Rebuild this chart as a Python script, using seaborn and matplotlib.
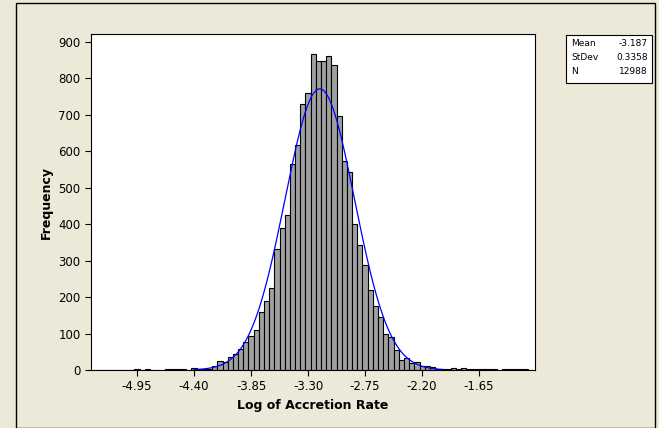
import numpy as np
import pandas as pd
import matplotlib
matplotlib.use("Agg")
import matplotlib.pyplot as plt
import seaborn as sns

# bin centers (width 0.05) and counts
left_tail_x = [-5.35, -5.30, -5.25, -5.20, -5.15, -5.10, -5.05, -5.00, -4.95, -4.90, -4.85, -4.80,
               -4.75, -4.70, -4.65, -4.60, -4.55, -4.50, -4.45, -4.40, -4.35, -4.30, -4.25]
left_tail_n = [1, 1, 1, 1, 1, 1, 1, 1, 3, 1, 2, 1, 1, 1, 2, 2, 2, 2, 1, 5, 2, 3, 4]
main_n = [12, 24, 22, 35, 44, 59, 78, 93, 110, 160, 188, 226, 331, 391, 425, 564, 617, 730,
          760, 867, 849, 849, 861, 838, 697, 573, 543, 401, 342, 287, 219, 175, 146, 99, 91,
          55, 27, 33, 19, 21, 12, 12]
main_x = list(np.round(-4.20 + 0.05 * np.arange(len(main_n)), 2))
right_tail_x = [-2.10, -2.05, -2.00, -1.95, -1.90, -1.85, -1.80, -1.75, -1.70, -1.65, -1.60,
                -1.55, -1.50, -1.45, -1.40, -1.35, -1.30, -1.25, -1.20, -1.15]
right_tail_n = [8, 4, 2, 2, 5, 2, 6, 3, 2, 2, 3, 2, 3, 1, 2, 3, 2, 3, 2, 1]

mean, sd, n_total = -3.187, 0.3358, 12988
xticks = [-4.95, -4.40, -3.85, -3.30, -2.75, -2.20, -1.65]

df = pd.DataFrame({"x": left_tail_x + main_x + right_tail_x,
                   "n": left_tail_n + main_n + right_tail_n})

bg = "#ECE9D8"
fig = plt.figure(figsize=(6.59, 4.28), dpi=100, facecolor=bg)
ax = fig.add_axes([0.138, 0.1355, 0.674, 0.785])
sns.histplot(data=df, x="x", weights="n", binwidth=0.05, binrange=(-5.375, -1.125),
             color="#A0A0A0", alpha=1, edgecolor="black", linewidth=0.8, ax=ax)

xs = np.linspace(-4.4, -2.0, 400)
ys = n_total * 0.05 * np.exp(-0.5 * ((xs - mean) / sd) ** 2) / (sd * np.sqrt(2 * np.pi))
sns.lineplot(x=xs, y=ys, color="blue", linewidth=0.9, ax=ax)

ax.set_xlim(-5.394, -1.11)
ax.set_ylim(0, 922)
ax.set_xticks(xticks)
ax.set_xticklabels([f"{t:.2f}" for t in xticks])
ax.set_yticks(range(0, 901, 100))
ax.tick_params(direction="out", length=4, labelsize=8.5)
ax.set_xlabel("Log of Accretion Rate", fontsize=9, fontweight="bold")
ax.set_ylabel("Frequency", fontsize=9, fontweight="bold")
for s in ax.spines.values():
    s.set_linewidth(0.8)

# outer frame
fig.patches.append(plt.Rectangle((16 / 659, 0), 639 / 659, 425 / 428, transform=fig.transFigure,
                                 fill=False, edgecolor="black", linewidth=1))

# stats box
box = plt.Rectangle((566 / 659, 1 - 83 / 428), 86 / 659, 48 / 428, transform=fig.transFigure,
                    facecolor="white", edgecolor="black", linewidth=0.8)
fig.patches.append(box)
labels = ["Mean", "StDev", "N"]
vals = ["-3.187", "0.3358", "12988"]
for i, (l, v) in enumerate(zip(labels, vals)):
    y = 1 - (44 + i * 13.5) / 428
    fig.text(571 / 659, y, l, fontsize=6.5, va="center")
    fig.text(648 / 659, y, v, fontsize=6.5, va="center", ha="right")

fig.savefig("out.png", dpi=100, facecolor=bg)
